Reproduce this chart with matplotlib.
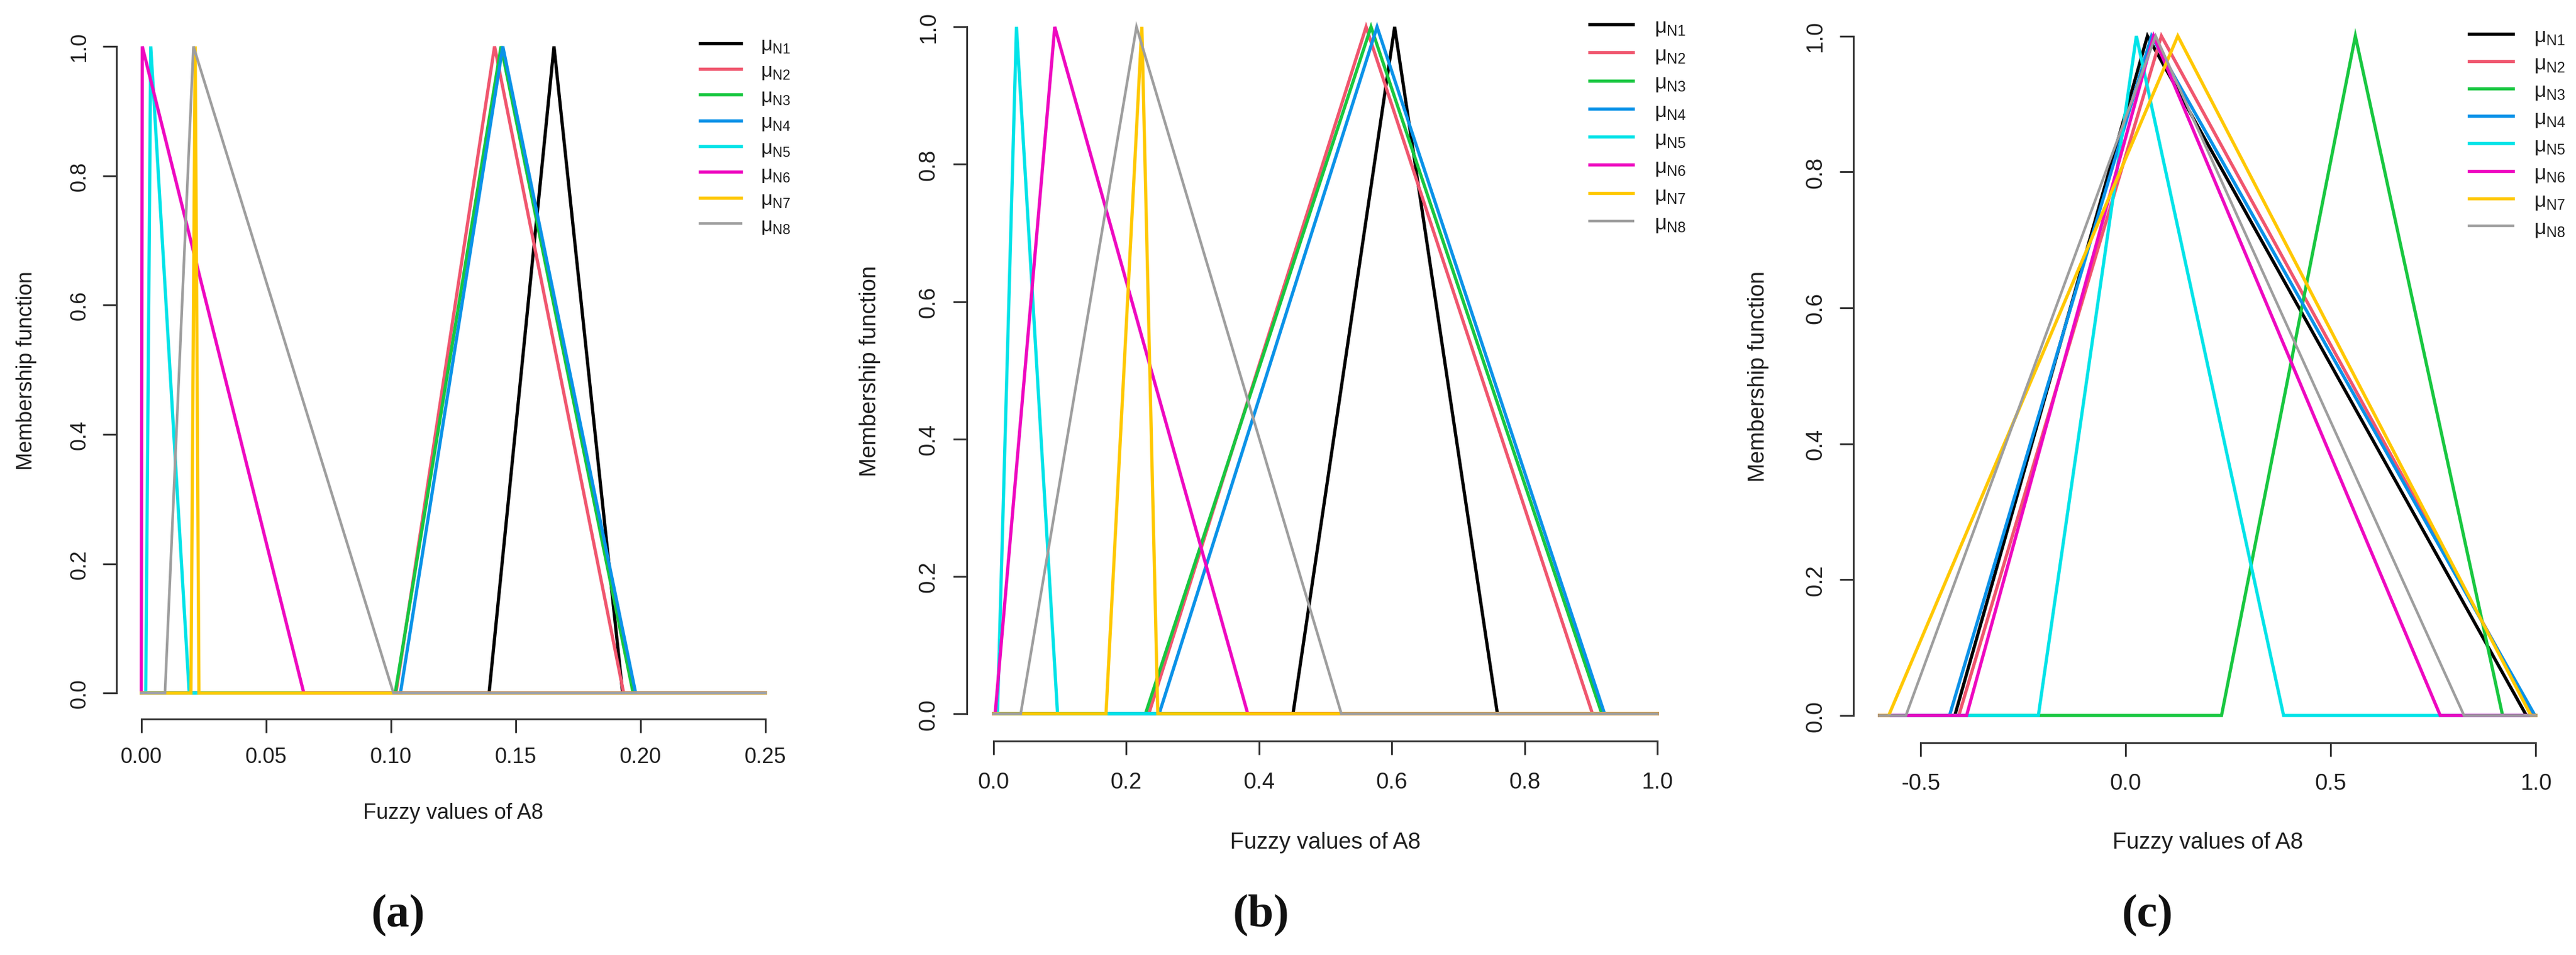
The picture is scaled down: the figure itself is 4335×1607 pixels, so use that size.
import matplotlib
matplotlib.use("Agg")
import matplotlib.pyplot as plt

plt.rcParams['font.family'] = ['Liberation Sans', 'DejaVu Sans']
plt.rcParams['mathtext.fontset'] = 'custom'
plt.rcParams['mathtext.rm'] = 'Liberation Sans'
plt.rcParams['mathtext.it'] = 'Liberation Sans'
plt.rcParams['axes.unicode_minus'] = False

# ---------------- data ----------------
series = ['N1', 'N2', 'N3', 'N4', 'N5', 'N6', 'N7', 'N8']
colors = ['#000000', '#F0566E', '#18C740', '#0A92E8', '#00E3E8', '#EE08C0', '#FFC800', '#9E9E9E']

# panel (a): triangular membership functions (left, peak, right)
a_range = [0.0, 0.25]
a_left  = [0.1393, 0.1020, 0.1017, 0.1038, 0.0018, 0.0000, 0.0199, 0.0095]
a_peak  = [0.1653, 0.1415, 0.1441, 0.1448, 0.0038, 0.0004, 0.0216, 0.0209]
a_right = [0.1928, 0.1932, 0.1970, 0.1980, 0.0192, 0.0651, 0.0231, 0.1010]
a_xticks = [0.00, 0.05, 0.10, 0.15, 0.20, 0.25]
a_xticklabels = ['0.00', '0.05', '0.10', '0.15', '0.20', '0.25']

# panel (b)
b_range = [0.0, 1.0]
b_left  = [0.4512, 0.2340, 0.2290, 0.2496, 0.0060, 0.0025, 0.1695, 0.0410]
b_peak  = [0.6043, 0.5613, 0.5687, 0.5778, 0.0346, 0.0923, 0.2235, 0.2154]
b_right = [0.7591, 0.9023, 0.9164, 0.9205, 0.0965, 0.3830, 0.2475, 0.5240]
b_xticks = [0.0, 0.2, 0.4, 0.6, 0.8, 1.0]
b_xticklabels = ['0.0', '0.2', '0.4', '0.6', '0.8', '1.0']

# panel (c)
c_range = [-0.6, 1.0]
c_left  = [-0.4167, -0.407, 0.2336, -0.4296, -0.213, -0.388, -0.578, -0.536]
c_peak  = [0.053, 0.087, 0.560, 0.063, 0.026, 0.068, 0.127, 0.073]
c_right = [0.977, 0.995, 0.919, 0.998, 0.385, 0.767, 0.988, 0.825]
c_xticks = [-0.5, 0.0, 0.5, 1.0]
c_xticklabels = ['-0.5', '0.0', '0.5', '1.0']

yticks = [0.0, 0.2, 0.4, 0.6, 0.8, 1.0]
yticklabels = ['0.0', '0.2', '0.4', '0.6', '0.8', '1.0']

xlabel = 'Fuzzy values of A8'
ylabel = 'Membership function'
panel_tags = ['(a)', '(b)', '(c)']

# ---------------- layout ----------------
W, H = 4335, 1608
fig = plt.figure(figsize=(W / 100, H / 100), dpi=100)

def px_rect(l, r, t, b):
    return [l / W, 1 - b / H, (r - l) / W, (b - t) / H]

panels = [
    dict(rect=px_rect(195.7, 1330.2, 35.5, 1210.7), rng=a_range, left=a_left, peak=a_peak, right=a_right,
         xt=a_xticks, xtl=a_xticklabels, fs=26, xpad=17, ypad=15.6, xlab_y=-0.1347, ylab_x=-0.1337,
         leg_x=0.8659, leg_y=0.9779, ls=0.34, tag_x=670),
    dict(rect=px_rect(1627.2, 2833.7, 0.0, 1248.2), rng=b_range, left=b_left, peak=b_peak, right=b_right,
         xt=b_xticks, xtl=b_xticklabels, fs=27.5, xpad=20, ypad=17, xlab_y=-0.136, ylab_x=-0.1350,
         leg_x=0.8685, leg_y=0.9772, ls=0.36, tag_x=2122),
    dict(rect=px_rect(3119.0, 4311.5, 15.8, 1250.7), rng=c_range, left=c_left, peak=c_peak, right=c_right,
         xt=c_xticks, xtl=c_xticklabels, fs=27.5, xpad=20, ypad=16.7, xlab_y=-0.1355, ylab_x=-0.134,
         leg_x=0.8691, leg_y=0.9771, ls=0.33, tag_x=3614),
]

spine_color = '#333333'
text_color = '#1e1e1e'

for p, tag in zip(panels, panel_tags):
    ax = fig.add_axes(p['rect'])
    lo, hi = p['rng']
    pad = 0.04 * (hi - lo)
    handles = []
    for i, name in enumerate(series):
        xs = [lo, p['left'][i], p['peak'][i], p['right'][i], hi]
        ys = [0, 0, 1, 0, 0]
        lw = 3.2 if i == 7 else 3.9
        ln, = ax.plot(xs, ys, color=colors[i], lw=lw, solid_joinstyle='miter',
                      label='μ$_{\\rm ' + name + '}$')
        handles.append(ln)
    ax.set_xlim(lo - pad, hi + pad)
    ax.set_ylim(-0.04, 1.04)
    for s in ['top', 'right']:
        ax.spines[s].set_visible(False)
    for s in ['left', 'bottom']:
        ax.spines[s].set_color(spine_color)
        ax.spines[s].set_linewidth(2.2)
    ax.spines['left'].set_bounds(0, 1)
    ax.spines['bottom'].set_bounds(p['xt'][0], p['xt'][-1])
    ax.set_xticks(p['xt'])
    ax.set_xticklabels(p['xtl'])
    ax.set_yticks(yticks)
    ax.set_yticklabels(yticklabels, rotation=90, va='center')
    ax.tick_params(axis='both', length=16.3, width=2.2, color=spine_color,
                   labelsize=p['fs'], labelcolor=text_color)
    ax.tick_params(axis='x', pad=p['xpad'])
    ax.tick_params(axis='y', pad=p['ypad'])
    ax.set_xlabel(xlabel, fontsize=p['fs'], color=text_color, va='center')
    ax.xaxis.set_label_coords(0.5, p['xlab_y'])
    ax.set_ylabel(ylabel, fontsize=p['fs'], color=text_color, va='center')
    ax.yaxis.set_label_coords(p['ylab_x'], 0.5)
    ax.legend(handles=handles, loc='upper left', bbox_to_anchor=(p['leg_x'], p['leg_y']),
              frameon=False, fontsize=p['fs'] - 2, handlelength=2.07, handletextpad=1.0,
              labelspacing=p['ls'], borderpad=0, borderaxespad=0, labelcolor=text_color)
    fig.text(p['tag_x'] / W, 1 - 1541 / H, tag, ha='center', va='center',
             fontsize=56, fontweight='bold', family='Liberation Serif', color='#111111')

fig.savefig('out.png', dpi=100)
